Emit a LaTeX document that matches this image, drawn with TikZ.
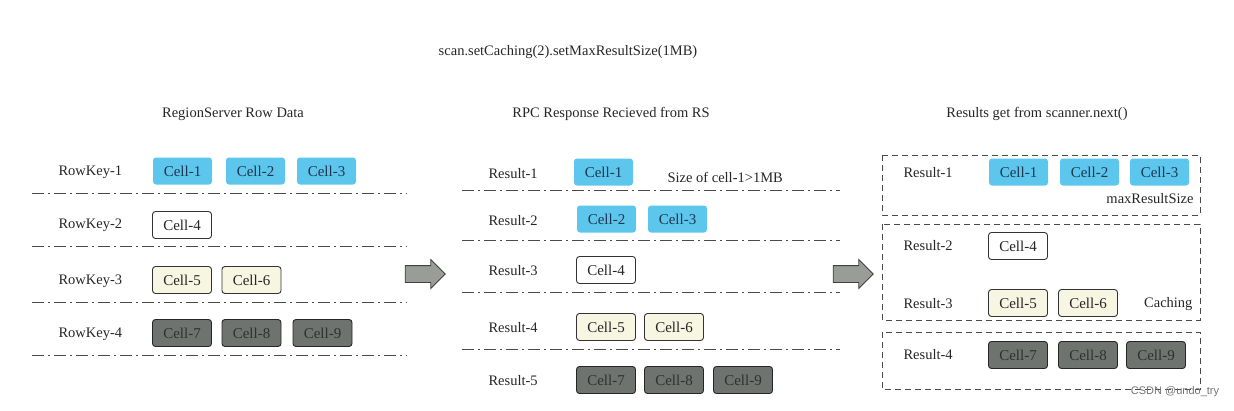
\documentclass[tikz,border=0pt]{standalone}
\usepackage{fontspec}
\setmainfont{Liberation Serif}
\setsansfont{Liberation Sans}
\usetikzlibrary{shapes.arrows}
\definecolor{cyanfill}{HTML}{5CC6EC}
\definecolor{navy}{HTML}{1F3550}
\definecolor{creamfill}{HTML}{F6F6E2}
\definecolor{darkfill}{HTML}{6F736F}
\definecolor{darktext}{HTML}{2E322E}
\definecolor{linegray}{HTML}{4A4A4A}
\definecolor{arrowfill}{HTML}{9A9C98}
\newcommand{\mainfs}{\rmfamily\fontsize{14.5}{16}\selectfont}
\begin{document}
\begin{tikzpicture}[x=1pt,y=-1pt,
  every node/.style={font=\mainfs, text=black!85},
  cellbase/.style={rounded corners=3pt, minimum width=59pt, minimum height=27pt, inner sep=0pt,
    font=\rmfamily\fontsize{15}{16}\selectfont},
  cellblue/.style={cellbase, fill=cyanfill, text=navy},
  cellwhite/.style={cellbase, draw=black!80, line width=0.9pt, fill=white},
  cellcream/.style={cellbase, draw=black!80, line width=0.9pt, fill=creamfill},
  celldark/.style={cellbase, draw=black!85, line width=0.9pt, fill=darkfill, text=darktext},
  sep/.style={draw=linegray, line width=1pt, dash pattern=on 12pt off 4pt on 2pt off 4pt},
  groupbox/.style={draw=linegray, line width=1pt, dash pattern=on 6pt off 4pt},
  bigarrow/.style={single arrow, draw=black!75, fill=arrowfill, line width=0.8pt,
    minimum height=40pt, inner xsep=0pt, inner ysep=8pt, text height=0pt, text depth=0pt,
    single arrow head extend=6pt},
  lbl/.style={anchor=west}
]
\useasboundingbox (0,0) rectangle (1234,410);

\node (top) at (568,52) {scan.setCaching(2).setMaxResultSize(1MB)};

% ---------------- left panel
\node (tL) at (233,114) {RegionServer Row Data};
\node[lbl] (rk1) at (55,172) {RowKey-1};
\node[lbl] (rk2) at (55,225) {RowKey-2};
\node[lbl] (rk3) at (55,281) {RowKey-3};
\node[lbl] (rk4) at (55,334) {RowKey-4};
\node[cellblue] (lc1) at (182.5,171) {Cell-1};
\node[cellblue] (lc2) at (255.5,171) {Cell-2};
\node[cellblue] (lc3) at (326.5,171) {Cell-3};
\node[cellwhite] (lc4) at (182,225) {Cell-4};
\node[cellcream] (lc5) at (182,280) {Cell-5};
\node[cellcream] (lc6) at (251.5,280) {Cell-6};
\node[celldark] (lc7) at (182,333) {Cell-7};
\node[celldark] (lc8) at (251.5,333) {Cell-8};
\node[celldark] (lc9) at (322.5,333) {Cell-9};
\coordinate (la1) at (32,193); \coordinate (lb1) at (407,193);
\coordinate (la2) at (32,246); \coordinate (lb2) at (407,246);
\coordinate (la3) at (32,302); \coordinate (lb3) at (407,302);
\coordinate (la4) at (32,355); \coordinate (lb4) at (407,355);
\foreach \i in {1,...,4} \draw[sep] (la\i) -- (lb\i);

\node[bigarrow] (ar1) at (421,274) {};

% ---------------- middle panel
\node (tM) at (611,114) {RPC Response Recieved from RS};
\node[lbl] (m1) at (485,174) {Result-1};
\node[lbl] (m2) at (485,221) {Result-2};
\node[lbl] (m3) at (485,271) {Result-3};
\node[lbl] (m4) at (485,328) {Result-4};
\node[lbl] (m5) at (485,381) {Result-5};
\node[cellblue] (mc1) at (603.5,172) {Cell-1};
\node[lbl] (sz) at (664,177) {Size of cell-1>1MB};
\node[cellblue] (mc2) at (606.5,219) {Cell-2};
\node[cellblue] (mc3) at (677.5,219) {Cell-3};
\node[cellwhite] (mc4) at (606,270) {Cell-4};
\node[cellcream] (mc5) at (606,327) {Cell-5};
\node[cellcream] (mc6) at (674,327) {Cell-6};
\node[celldark] (mc7) at (606,380) {Cell-7};
\node[celldark] (mc8) at (674,380) {Cell-8};
\node[celldark] (mc9) at (743,380) {Cell-9};
\coordinate (ma1) at (462,190); \coordinate (mb1) at (840,190);
\coordinate (ma2) at (462,240); \coordinate (mb2) at (840,240);
\coordinate (ma3) at (462,292); \coordinate (mb3) at (840,292);
\coordinate (ma4) at (462,349); \coordinate (mb4) at (840,349);
\foreach \i in {1,...,4} \draw[sep] (ma\i) -- (mb\i);

\node[bigarrow] (ar2) at (849,274) {};

% ---------------- right panel
\node (tR) at (1037,114) {Results get from scanner.next()};
\draw[groupbox] (882,155) rectangle (1200,215);
\draw[groupbox] (882,224) rectangle (1200,320);
\draw[groupbox] (882,332) rectangle (1200,389);
\node[lbl] (r1) at (900,173) {Result-1};
\node[lbl] (r2) at (900,246) {Result-2};
\node[lbl] (r3) at (900,304) {Result-3};
\node[lbl] (r4) at (900,355) {Result-4};
\node[cellblue] (rc1) at (1018.5,172) {Cell-1};
\node[cellblue] (rc2) at (1089.5,172) {Cell-2};
\node[cellblue] (rc3) at (1159.5,172) {Cell-3};
\node[anchor=east] (mrs) at (1197,199) {maxResultSize};
\node[cellwhite] (rc4) at (1018,246) {Cell-4};
\node[cellcream] (rc5) at (1018,303) {Cell-5};
\node[cellcream] (rc6) at (1088,303) {Cell-6};
\node[anchor=east] (cach) at (1196,304) {Caching};
\node[celldark] (rc7) at (1018,355) {Cell-7};
\node[celldark] (rc8) at (1088,355) {Cell-8};
\node[celldark] (rc9) at (1156,355) {Cell-9};

\node[font=\sffamily\fontsize{11}{13}\selectfont, text=black!55] (wm) at (1175,392) {CSDN @undo\_try};
\end{tikzpicture}
\end{document}
